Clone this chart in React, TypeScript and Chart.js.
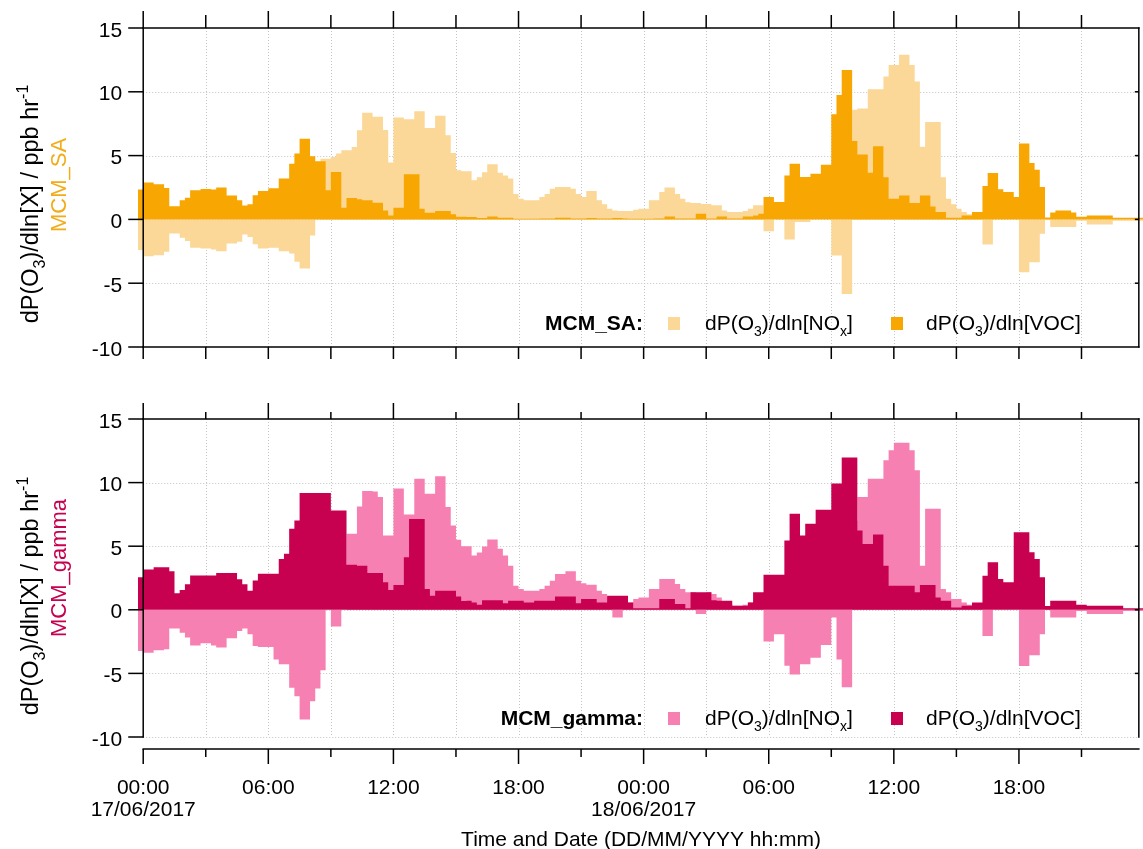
import React, { useEffect, useRef } from "react";
import { Chart, registerables } from "chart.js";

Chart.register(...registerables);

const FONT = '"Liberation Sans", Arial, Helvetica, sans-serif';

// Time axis: hours since 00:00 17/06/2017, 15-minute steps
const START_HOUR = -0.25;
const STEP_HOURS = 0.25;
const X_MIN = -0.25;
const X_MAX = 47.95;
const X_AXIS_END = 47.75;

const X_TICK_HOURS = [0, 6, 12, 18, 24, 30, 36, 42];
const X_TICK_LABELS = ["00:00", "06:00", "12:00", "18:00", "00:00", "06:00", "12:00", "18:00"];
const MINOR_TICK_HOURS = [3, 9, 15, 21, 27, 33, 39, 45];
const DATE_TICK_HOURS = [0, 24];
const DATE_LABELS = ["17/06/2017", "18/06/2017"];
const Y_TICKS = [15, 10, 5, 0, -5, -10];
const X_TITLE = "Time and Date (DD/MM/YYYY hh:mm)";

// MCM_SA
const MCM_SA_VOC = [
  2.08, 2.34, 2.89, 2.89, 2.76, 2.76, 2.47, 1.03, 1.03, 1.5, 1.69, 2.29,
  2.29, 2.39, 2.39, 2.34, 2.5, 2.5, 1.87, 1.87, 1.5, 1.09, 1.19, 1.9,
  2.23, 2.23, 2.44, 2.44, 3.2, 3.2, 4.37, 5.16, 6.33, 6.33, 4.95, 4.55,
  4.55, 2.28, 3.72, 3.72, 0.92, 1.68, 1.68, 1.57, 1.5, 1.5, 1.3, 1.3,
  0.7, 0.3, 0.92, 0.92, 3.53, 3.53, 3.53, 0.84, 0.52, 0.52, 0.65, 0.65,
  0.65, 0.4, 0.2, 0.2, 0.18, 0.18, 0.1, 0.1, 0.23, 0.23, 0.13, 0.13,
  0.13, 0.05, 0.05, 0.05, 0.05, 0.05, 0.08, 0.08, 0.08, 0.13, 0.13, 0.13,
  0.08, 0.08, 0.08, 0.1, 0.1, 0.08, 0.08, 0.08, 0.1, 0.1, 0.08, 0.05,
  0.05, 0.05, 0.05, 0.05, 0.08, 0.08, 0.23, 0.23, 0.08, 0.08, 0.08, 0.08,
  0.45, 0.45, 0.08, 0.08, 0.23, 0.23, 0.08, 0.08, 0.08, 0.23, 0.23, 0.3,
  0.45, 1.75, 1.75, 1.36, 1.36, 3.45, 4.37, 4.37, 3.32, 3.32, 3.58, 3.58,
  4.29, 4.29, 8.25, 9.74, 11.7, 11.7, 6.15, 5.08, 5.08, 3.66, 5.73, 5.73,
  3.3, 1.62, 1.62, 1.88, 1.88, 1.28, 1.28, 1.88, 1.88, 1.02, 0.58, 0.58,
  0.13, 0.13, 0.13, 0.31, 0.31, 0.58, 0.58, 2.62, 3.64, 3.64, 2.36, 2.15,
  2.15, 1.75, 5.94, 5.94, 4.42, 3.9, 2.54, 0.15, 0.55, 0.7, 0.7, 0.7,
  0.55, 0.2, 0.2, 0.3, 0.3, 0.3, 0.3, 0.3, 0.13, 0.13, 0.13, 0.13,
  0.13,
];

const MCM_SA_NOX = [
  -2.02, -2.4, -2.88, -2.88, -2.8, -2.8, -2.54, -1.1, -1.1, -1.43, -1.69, -2.23,
  -2.23, -2.28, -2.28, -2.36, -2.49, -2.49, -1.89, -1.89, -1.75, -1.18, -1.37, -1.94,
  -2.28, -2.28, -2.23, -2.23, -2.49, -2.49, -2.67, -3.32, -3.85, -3.85, -1.26, 0,
  4.75, 4.75, 4.9, 5.16, 5.42, 5.42, 5.68, 6.99, 8.35, 8.35, 8.04, 8.04,
  7.0, 4.45, 7.98, 7.98, 7.85, 7.85, 8.48, 8.48, 7.17, 7.17, 8.12, 8.12,
  6.6, 5.2, 3.85, 3.77, 3.77, 3.06, 3.3, 3.7, 4.32, 4.32, 3.65, 3.45,
  3.2, 2.0, 1.62, 1.5, 1.5, 1.5, 1.75, 2.0, 2.4, 2.54, 2.54, 2.54,
  2.4, 2.0, 1.75, 2.22, 2.22, 1.5, 1.18, 0.84, 0.7, 0.65, 0.65, 0.65,
  0.75, 0.84, 0.84, 1.5, 1.5, 2.15, 2.5, 2.5, 2.0, 1.62, 1.35, 1.28,
  1.28, 1.2, 1.2, 1.1, 1.1, 0.7, 0.58, 0.58, 0.58, 0.65, 0.84, 1.1,
  1.1, -0.92, -0.92, 0, 0, -1.57, -1.57, -0.2, -0.2, -0.2, 0, 0,
  0, 0, -2.83, -2.83, -5.84, -5.84, 8.6, 8.7, 8.7, 10.2, 10.2, 10.2,
  11.2, 12.1, 12.1, 12.9, 12.9, 12.1, 10.8, 5.7, 7.64, 7.64, 7.64, 3.3,
  1.62, 1.18, 0.84, 0.58, 0.4, 0.4, 0.4, -1.96, -1.96, 0, 0, 0,
  0, 0, -4.14, -4.14, -3.35, -3.35, -1.13, 0.1, -0.6, -0.6, -0.6, -0.6,
  -0.6, -0.1, -0.1, -0.39, -0.39, -0.39, -0.39, -0.39, -0.1, -0.1, -0.1, -0.1,
  -0.1,
];

// MCM_gamma
const MCM_GAMMA_VOC = [
  2.24, 2.55, 3.16, 3.16, 3.34, 3.34, 3.34, 3.03, 1.3, 1.55, 2.0, 2.7,
  2.7, 2.7, 2.7, 2.7, 2.9, 2.9, 2.9, 2.9, 2.4, 2.0, 1.5, 2.3,
  2.84, 2.84, 2.84, 2.84, 4.0, 4.4, 6.37, 7.03, 9.18, 9.18, 9.18, 9.18,
  9.18, 9.18, 7.8, 7.8, 7.8, 3.55, 3.55, 3.47, 3.47, 2.9, 2.9, 2.9,
  2.16, 1.55, 1.95, 1.95, 4.13, 7.13, 7.13, 7.13, 1.63, 1.1, 1.5, 1.5,
  1.5, 1.5, 1.05, 0.7, 0.71, 0.58, 0.4, 0.76, 0.76, 0.76, 0.76, 0.52,
  0.71, 0.71, 0.71, 0.58, 0.58, 0.71, 0.71, 0.71, 0.71, 1.05, 1.05, 1.05,
  1.05, 0.52, 0.84, 0.84, 0.84, 0.58, 0.58, 1.1, 1.1, 1.1, 1.1, 0.58,
  0.13, 0.13, 0.13, 0.13, 0.13, 0.84, 0.84, 0.84, 0.45, 0.45, 0.13, 1.37,
  1.37, 1.37, 1.37, 0.76, 0.71, 0.71, 0.71, 0.32, 0.32, 0.32, 0.58, 1.37,
  1.37, 2.76, 2.76, 2.76, 2.76, 5.45, 7.55, 7.55, 5.84, 6.76, 6.76, 7.87,
  7.87, 7.87, 9.92, 9.92, 11.97, 11.97, 11.97, 6.24, 5.18, 5.18, 5.92, 5.92,
  3.47, 1.9, 1.9, 1.9, 1.9, 1.9, 1.37, 1.95, 1.95, 1.95, 0.97, 0.71,
  0.71, 0.18, 0.18, 0.32, 0.32, 0.58, 0.58, 2.68, 3.74, 3.74, 2.42, 2.16,
  2.16, 6.1, 6.1, 6.1, 4.53, 4.0, 2.55, 0.3, 0.71, 0.71, 0.71, 0.71,
  0.71, 0.4, 0.4, 0.32, 0.32, 0.32, 0.32, 0.32, 0.32, 0.32, 0.13, 0.13,
  0.13,
];

const MCM_GAMMA_NOX = [
  -2.4, -3.24, -3.37, -3.37, -3.18, -3.18, -3.1, -1.47, -1.47, -1.8, -2.18, -2.8,
  -2.8, -2.63, -2.63, -2.8, -2.97, -2.97, -2.24, -2.24, -1.66, -1.47, -1.92, -2.84,
  -2.92, -2.92, -2.92, -3.9, -4.29, -4.29, -6.13, -6.79, -8.63, -8.63, -7.18, -6.18,
  -4.76, 0, -1.32, -1.32, 0, 5.97, 5.97, 8.13, 9.34, 9.34, 9.3, 8.87,
  5.84, 5.84, 9.53, 9.53, 7.5, 7.5, 10.3, 10.3, 9.13, 9.13, 10.5, 10.5,
  8.08, 6.63, 5.5, 5.0, 5.0, 4.26, 4.5, 4.97, 5.53, 5.53, 4.79, 4.26,
  3.47, 1.9, 1.63, 1.5, 1.5, 1.5, 1.63, 1.9, 2.29, 2.82, 2.82, 3.03,
  3.03, 2.29, 2.08, 1.97, 1.97, 1.5, 1.24, 0.97, -0.6, -0.6, 0.71, 0.58,
  0.84, 0.97, 0.97, 1.63, 1.63, 2.42, 2.42, 2.42, 2.03, 1.63, 1.37, 1.37,
  -0.34, -0.34, 1.37, 1.24, 0.97, 0.58, 0.45, 0.32, 0.32, 0.4, 0.58, 0.58,
  0.5, -2.5, -2.5, -1.92, -1.92, -4.4, -5.08, -5.08, -4.29, -4.29, -3.76, -3.76,
  -2.76, -2.76, -0.6, -3.9, -6.08, -6.08, 7.0, 8.87, 8.87, 10.3, 10.3, 10.3,
  11.76, 12.55, 13.13, 13.13, 13.13, 12.55, 10.97, 3.47, 7.95, 7.95, 7.95, 1.63,
  1.37, 0.84, 0.84, 0.58, 0.4, 0.4, 0.4, -2.05, -2.05, 0, 0, 0,
  0, 0, -4.42, -4.42, -3.58, -3.58, -1.92, 0.1, -0.6, -0.6, -0.6, -0.6,
  -0.6, -0.1, -0.1, -0.34, -0.34, -0.34, -0.34, -0.34, -0.34, -0.34, -0.1, -0.1,
  -0.1,
];

type Seg = { t: string; k?: "sub" | "sup" };
const TITLE_SEGS: Seg[] = [{ t: "dP(O" }, { t: "3", k: "sub" }, { t: ")/dln[X] / ppb hr" }, { t: "-1", k: "sup" }];
const NOX_SEGS: Seg[] = [{ t: "dP(O" }, { t: "3", k: "sub" }, { t: ")/dln[NO" }, { t: "x", k: "sub" }, { t: "]" }];
const VOC_SEGS: Seg[] = [{ t: "dP(O" }, { t: "3", k: "sub" }, { t: ")/dln[VOC]" }];

function toSteps(values: number[]) {
  const pts = values.map((v, i) => ({ x: START_HOUR + STEP_HOURS * i, y: v }));
  pts.push({ x: START_HOUR + STEP_HOURS * values.length, y: values[values.length - 1] });
  return pts;
}

function segFont(size: number, k: Seg["k"], bold: boolean) {
  const s = k ? Math.round(size * 0.66) : size;
  return `${bold ? "bold " : ""}${s}px ${FONT}`;
}

function richWidth(ctx: CanvasRenderingContext2D, segs: Seg[], size: number, bold = false) {
  let w = 0;
  for (const s of segs) {
    ctx.font = segFont(size, s.k, bold);
    w += ctx.measureText(s.t).width;
  }
  return w;
}

function drawRich(ctx: CanvasRenderingContext2D, segs: Seg[], x: number, y: number, size: number, align: "left" | "center" = "left", bold = false) {
  let cx = align === "center" ? x - richWidth(ctx, segs, size, bold) / 2 : x;
  ctx.textAlign = "left";
  ctx.textBaseline = "alphabetic";
  for (const s of segs) {
    ctx.font = segFont(size, s.k, bold);
    const dy = s.k === "sub" ? size * 0.28 : s.k === "sup" ? -size * 0.42 : 0;
    ctx.fillText(s.t, cx, y + dy);
    cx += ctx.measureText(s.t).width;
  }
}

type PanelCfg = {
  canvasTop: number;
  height: number;
  padTop: number;
  padBottom: number;
  voc: number[];
  nox: number[];
  vocColor: string;
  noxColor: string;
  name: string;
  nameColor: string;
  legendName: string;
  legendBaseline: number;
  titleCenterY: number;
  nameCenterY: number;
  topMajor: number;
  topMinor: number;
  axisOffset: number;
  bottomMajor: number;
  bottomMinor: number;
  showTimeLabels: boolean;
  gridValues: number[];
};

const WIDTH = 1143;

function makePlugin(cfg: PanelCfg) {
  return {
    id: "igorAxes",
    beforeDatasetsDraw(chart: any) {
      const ctx: CanvasRenderingContext2D = chart.ctx;
      const xs = chart.scales.x;
      const ys = chart.scales.y;
      const x0 = xs.getPixelForValue(0);
      const x1 = xs.getPixelForValue(X_AXIS_END);
      const yt = ys.getPixelForValue(15);
      const yb = ys.getPixelForValue(-10);
      ctx.save();
      ctx.strokeStyle = "#c4c4c4";
      ctx.lineWidth = 1;
      ctx.setLineDash([1, 2]);
      for (let h = 3; h <= 45; h += 3) {
        const px = Math.round(xs.getPixelForValue(h)) + 0.5;
        ctx.beginPath();
        ctx.moveTo(px, yt);
        ctx.lineTo(px, yb);
        ctx.stroke();
      }
      for (const v of cfg.gridValues) {
        const py = Math.round(ys.getPixelForValue(v)) + 0.5;
        ctx.beginPath();
        ctx.moveTo(x0, py);
        ctx.lineTo(x1, py);
        ctx.stroke();
      }
      ctx.restore();
    },
    afterDraw(chart: any) {
      const ctx: CanvasRenderingContext2D = chart.ctx;
      const xs = chart.scales.x;
      const ys = chart.scales.y;
      const x0 = xs.getPixelForValue(0);
      const x1 = xs.getPixelForValue(X_AXIS_END);
      const yt = ys.getPixelForValue(15);
      const yb = ys.getPixelForValue(-10);
      const yAxisX = yb + cfg.axisOffset;
      ctx.save();
      ctx.strokeStyle = "#000";
      ctx.lineWidth = 1.5;
      ctx.setLineDash([]);
      const line = (ax: number, ay: number, bx: number, by: number) => {
        ctx.beginPath();
        ctx.moveTo(ax, ay);
        ctx.lineTo(bx, by);
        ctx.stroke();
      };
      // frame
      line(x0, yt - 0.75, x0, yb + 0.75);
      line(x1, yt - 0.75, x1, yb + 0.75);
      line(x0 - 0.75, yt, x1 + 0.75, yt);
      line(x0 - 0.75, yAxisX, x1 + 0.75, yAxisX);
      // y ticks
      for (const v of Y_TICKS) {
        const py = ys.getPixelForValue(v);
        line(x0 - 15, py, x0, py);
        if (v !== 15 && v !== -10) line(x1 - 4, py, x1, py);
      }
      // x ticks top and bottom
      for (const h of X_TICK_HOURS) {
        const px = xs.getPixelForValue(h);
        line(px, yt - cfg.topMajor, px, yt);
        line(px, yAxisX, px, yAxisX + cfg.bottomMajor);
      }
      for (const h of MINOR_TICK_HOURS) {
        const px = xs.getPixelForValue(h);
        line(px, yt - cfg.topMinor, px, yt);
        line(px, yAxisX, px, yAxisX + cfg.bottomMinor);
      }
      // y tick labels
      ctx.fillStyle = "#000";
      ctx.font = `21px ${FONT}`;
      ctx.textAlign = "right";
      ctx.textBaseline = "alphabetic";
      for (const v of Y_TICKS) {
        const py = ys.getPixelForValue(v);
        ctx.fillText(String(v), x0 - 21, py + 8.5);
      }
      // x tick labels
      if (cfg.showTimeLabels) {
        ctx.textAlign = "center";
        X_TICK_HOURS.forEach((h, i) => {
          ctx.fillText(X_TICK_LABELS[i], xs.getPixelForValue(h), yAxisX + 45);
        });
        DATE_TICK_HOURS.forEach((h, i) => {
          ctx.fillText(DATE_LABELS[i], xs.getPixelForValue(h), yAxisX + 67);
        });
        ctx.fillText(X_TITLE, (x0 + x1) / 2, yAxisX + 97);
      }
      // y axis title (rotated)
      ctx.save();
      ctx.translate(38, cfg.titleCenterY);
      ctx.rotate(-Math.PI / 2);
      ctx.fillStyle = "#000";
      drawRich(ctx, TITLE_SEGS, 0, 0, 23.5, "center");
      ctx.restore();
      ctx.save();
      ctx.translate(66, cfg.nameCenterY);
      ctx.rotate(-Math.PI / 2);
      ctx.fillStyle = cfg.nameColor;
      drawRich(ctx, [{ t: cfg.name }], 0, 0, 22, "center");
      ctx.restore();
      // legend
      const lb = cfg.legendBaseline;
      ctx.fillStyle = "#000";
      ctx.font = `bold 21px ${FONT}`;
      ctx.textAlign = "right";
      ctx.fillText(cfg.legendName, 643, lb);
      ctx.fillStyle = cfg.noxColor;
      ctx.fillRect(668, lb - 13, 12, 13);
      ctx.fillStyle = cfg.vocColor;
      ctx.fillRect(891, lb - 13, 12, 13);
      ctx.fillStyle = "#000";
      drawRich(ctx, NOX_SEGS, 705, lb, 21, "left");
      drawRich(ctx, VOC_SEGS, 926, lb, 21, "left");
      ctx.restore();
    },
  };
}

function Panel({ cfg }: { cfg: PanelCfg }) {
  const ref = useRef<HTMLCanvasElement | null>(null);
  useEffect(() => {
    if (!ref.current) return;
    const chart = new Chart(ref.current, {
      type: "line",
      data: {
        datasets: [
          {
            label: "dP(O3)/dln[VOC]",
            data: toSteps(cfg.voc),
            stepped: "after",
            fill: "origin",
            backgroundColor: cfg.vocColor,
            borderColor: "rgba(0,0,0,0)",
            borderWidth: 0,
            pointRadius: 0,
          },
          {
            label: "dP(O3)/dln[NOx]",
            data: toSteps(cfg.nox),
            stepped: "after",
            fill: "origin",
            backgroundColor: cfg.noxColor,
            borderColor: "rgba(0,0,0,0)",
            borderWidth: 0,
            pointRadius: 0,
          },
        ],
      },
      options: {
        responsive: false,
        animation: false,
        devicePixelRatio: 1,
        events: [],
        layout: { padding: { left: 138, right: 0, top: cfg.padTop, bottom: cfg.padBottom } },
        plugins: { legend: { display: false }, tooltip: { enabled: false } },
        scales: {
          x: { type: "linear", min: X_MIN, max: X_MAX, display: false },
          y: { type: "linear", min: -10, max: 15, display: false },
        },
      },
      plugins: [makePlugin(cfg)],
    } as any);
    return () => chart.destroy();
  }, []);
  return (
    <canvas
      ref={ref}
      width={WIDTH}
      height={cfg.height}
      style={{ position: "absolute", left: 0, top: cfg.canvasTop, width: WIDTH, height: cfg.height, display: "block" }}
    />
  );
}

const TOP_CFG: PanelCfg = {
  canvasTop: 0,
  height: 390,
  padTop: 28,
  padBottom: 43,
  voc: MCM_SA_VOC,
  nox: MCM_SA_NOX,
  vocColor: "#F8A602",
  noxColor: "#FBD897",
  name: "MCM_SA",
  nameColor: "#F2AC1A",
  legendName: "MCM_SA:",
  legendBaseline: 330,
  titleCenterY: 204,
  nameCenterY: 185,
  topMajor: 17,
  topMinor: 13,
  axisOffset: 0,
  bottomMajor: 12,
  bottomMinor: 12,
  showTimeLabels: false,
  gridValues: [10, 5, 0, -5],
};

const BOTTOM_CFG: PanelCfg = {
  canvasTop: 390,
  height: 459,
  padTop: 29,
  padBottom: 112,
  voc: MCM_GAMMA_VOC,
  nox: MCM_GAMMA_NOX,
  vocColor: "#C70050",
  noxColor: "#F780B2",
  name: "MCM_gamma",
  nameColor: "#C70050",
  legendName: "MCM_gamma:",
  legendBaseline: 335,
  titleCenterY: 206,
  nameCenterY: 178,
  topMajor: 16,
  topMinor: 7,
  axisOffset: 12,
  bottomMajor: 15,
  bottomMinor: 8,
  showTimeLabels: true,
  gridValues: [10, 5, 0, -5, -10],
};

export default function App() {
  return (
    <div style={{ position: "absolute", left: 0, top: 0, width: WIDTH, height: 849, background: "#fff", overflow: "hidden" }}>
      <Panel cfg={TOP_CFG} />
      <Panel cfg={BOTTOM_CFG} />
    </div>
  );
}
